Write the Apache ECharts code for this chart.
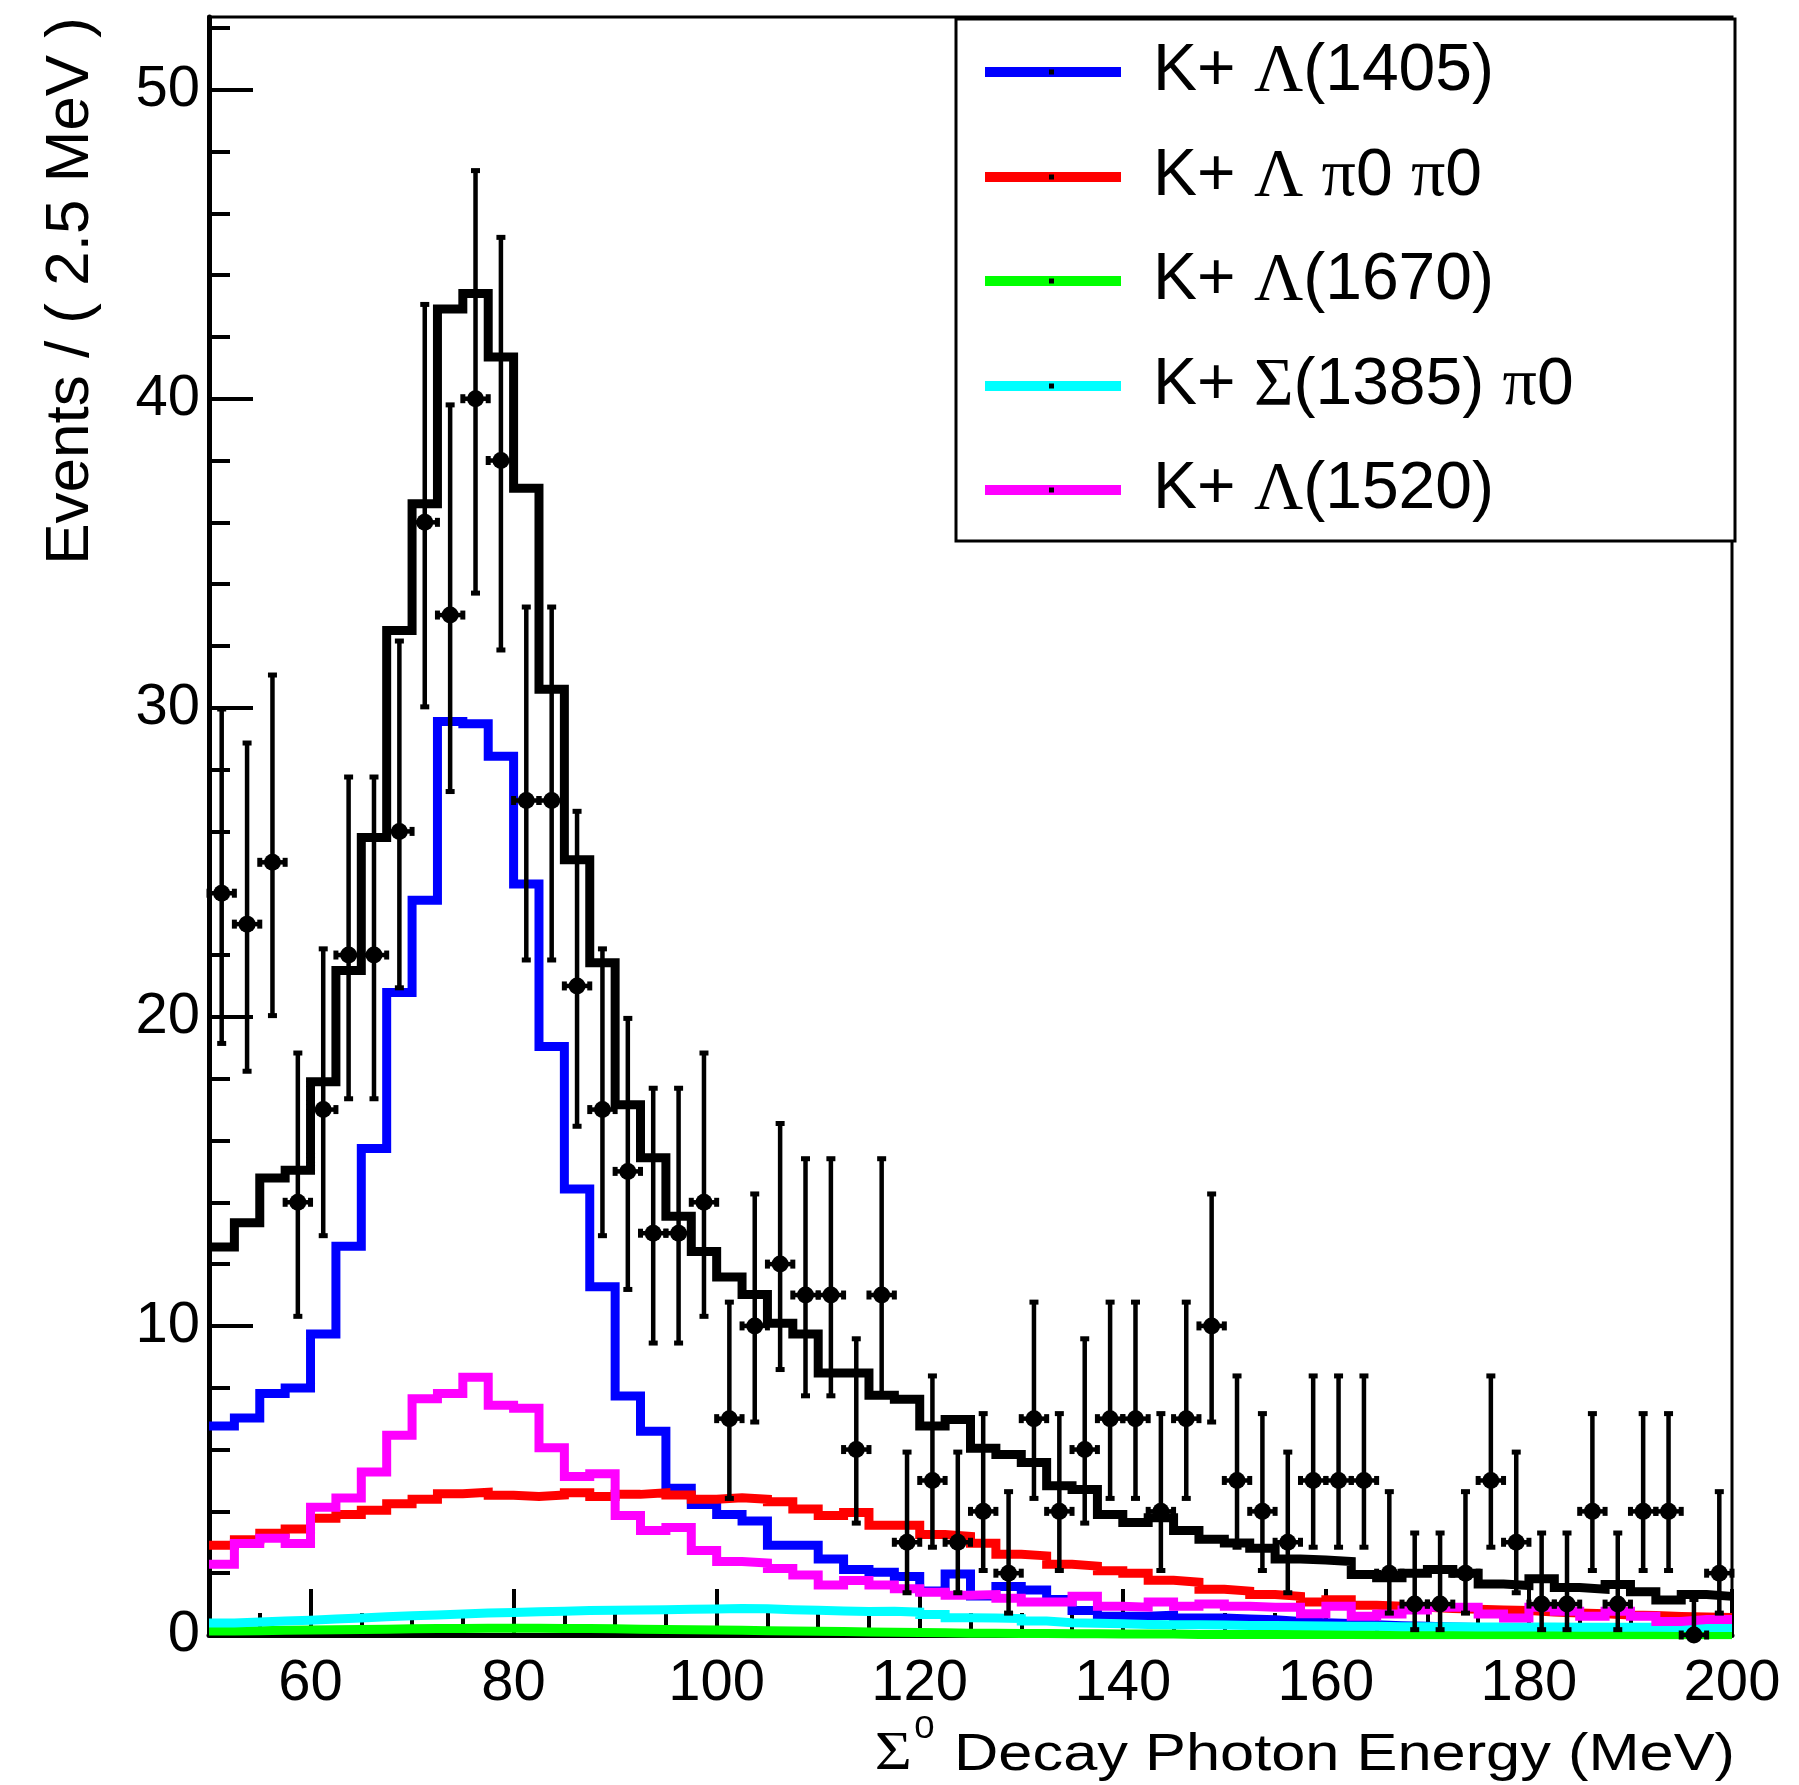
<!DOCTYPE html>
<html><head><meta charset="utf-8">
<script src="https://cdn.jsdelivr.net/npm/echarts@6/dist/echarts.min.js"></script>
<style>html,body{margin:0;padding:0;background:#fff}#c{width:1799px;height:1785px}</style>
</head><body><div id="c"></div>
<script>
// ---- bins (2.5 MeV wide) ----
const binCenters = [51.25,53.75,56.25,58.75,61.25,63.75,66.25,68.75,71.25,73.75,76.25,78.75,81.25,83.75,86.25,88.75,91.25,93.75,96.25,98.75,
  101.25,103.75,106.25,108.75,111.25,113.75,116.25,118.75,121.25,123.75,126.25,128.75,131.25,133.75,136.25,138.75,141.25,143.75,146.25,148.75,
  151.25,153.75,156.25,158.75,161.25,163.75,166.25,168.75,171.25,173.75,176.25,178.75,181.25,183.75,186.25,188.75,191.25,193.75,196.25,198.75];
const binHalfWidth = 1.25;

// ---- data counts ----
const dataCounts = [24,23,25,14,17,22,22,26,36,33,40,38,27,27,21,17,15,13,13,14,
  7,10,12,11,11,6,11,3,5,3,4,2,7,4,6,7,7,4,7,10,
  5,4,3,5,5,5,2,1,1,2,5,3,1,1,4,1,4,4,0,2];

// Poisson (68%) error bar ends, keyed by count
const poissonInterval = {0:[0,1.148],1:[0.173,3.300],2:[0.708,4.638],3:[1.367,5.918],4:[2.086,7.163],5:[2.840,8.382],
  6:[3.620,9.584],7:[4.419,10.77],10:[6.891,14.27],11:[7.739,15.41],12:[8.589,16.55],13:[9.446,17.69],14:[10.31,18.83],
  15:[11.18,19.95],17:[12.92,22.20],21:[16.46,26.65],22:[17.35,27.76],23:[18.24,28.86],24:[19.14,29.96],25:[20.04,31.06],
  26:[20.94,32.16],27:[21.84,33.26],33:[27.29,39.80],36:[30.03,43.05],38:[31.87,45.22],40:[33.71,47.38]};

// ---- fit curves (binned) ----
const totalFit = [12.55,13.34,14.79,15.04,17.9,21.5,25.8,32.5,36.6,42.9,43.4,41.35,37.1,30.6,25.08,21.75,17.16,15.44,13.55,12.41,
  11.58,11.02,10.09,9.74,8.48,8.48,7.76,7.63,6.76,6.97,6.04,5.84,5.58,4.83,4.71,3.9,3.64,3.79,3.38,3.1,
  2.98,2.81,2.46,2.43,2.38,1.96,1.85,2.0,2.12,2.0,1.65,1.6,1.82,1.54,1.48,1.63,1.4,1.13,1.31,1.25];
const kLambda1405 = [6.76,7.02,7.81,7.99,9.74,12.58,15.74,20.79,23.77,29.56,29.48,28.43,24.3,19.04,14.43,11.27,7.73,6.59,4.75,4.22,
  3.9,3.69,2.9,2.9,2.46,2.12,2.03,1.89,1.42,1.97,1.26,1.57,1.46,1.15,0.79,0.61,0.61,0.64,0.55,0.55,
  0.52,0.49,0.44,0.4,0.37,0.33,0.3,0.28,0.26,0.24,0.22,0.2,0.19,0.18,0.16,0.15,0.14,0.13,0.12,0.11];
const kLambdaPi0Pi0 = [2.9,3.08,3.29,3.43,3.78,3.9,4.04,4.25,4.39,4.57,4.62,4.52,4.48,4.53,4.6,4.48,4.55,4.6,4.53,4.39,
  4.44,4.39,4.31,4.08,3.87,3.96,3.55,3.55,3.25,3.19,2.97,2.61,2.56,2.29,2.23,2.08,2.0,1.77,1.71,1.48,
  1.42,1.31,1.25,1.07,1.14,0.96,0.93,0.9,0.86,0.83,0.81,0.79,0.74,0.71,0.69,0.65,0.63,0.6,0.58,0.57];
const kLambda1670 = [0.13,0.14,0.15,0.16,0.17,0.18,0.19,0.2,0.21,0.21,0.22,0.22,0.22,0.21,0.21,0.2,0.19,0.18,0.17,0.16,
  0.15,0.14,0.13,0.12,0.11,0.1,0.09,0.08,0.07,0.06,0.06,0.05,0.05,0.04,0.04,0.03,0.03,0.03,0.02,0.02,
  0.02,0.02,0.02,0.02,0.02,0.01,0.01,0.01,0.01,0.01,0.01,0.01,0.01,0.01,0.01,0.01,0.01,0.01,0.01,0.01];
const kSigma1385Pi0 = [0.39,0.42,0.45,0.48,0.52,0.55,0.59,0.62,0.65,0.68,0.71,0.73,0.75,0.77,0.79,0.8,0.81,0.82,0.83,0.84,
  0.86,0.85,0.82,0.8,0.78,0.76,0.77,0.74,0.66,0.56,0.55,0.53,0.45,0.4,0.38,0.36,0.34,0.33,0.33,0.32,
  0.31,0.31,0.3,0.29,0.28,0.28,0.27,0.27,0.27,0.26,0.26,0.26,0.26,0.25,0.25,0.25,0.25,0.24,0.24,0.24];
const kLambda1520 = [2.29,2.96,3.13,2.96,4.13,4.43,5.27,6.46,7.64,7.81,8.34,7.43,7.34,6.06,5.13,5.22,3.87,3.38,3.48,2.73,
  2.38,2.33,2.15,1.94,1.62,1.76,1.62,1.5,1.38,1.29,1.31,1.19,1.07,1.07,1.25,0.93,0.9,1.07,0.93,1.0,
  0.93,0.9,0.9,0.69,0.93,0.61,0.68,0.81,0.9,0.9,0.68,0.55,0.9,0.77,0.61,0.77,0.61,0.44,0.5,0.5];

// ---- axes ----
const xMajorTicks = [60,80,100,120,140,160,180,200];
const xMinorTicks = [55,60,65,70,75,80,85,90,95,100,105,110,115,120,125,130,135,140,145,150,155,160,165,170,175,180,185,190,195,200];
const yMajorTicks = [0,10,20,30,40,50];
const yMinorTicks = [0,2,4,6,8,10,12,14,16,18,20,22,24,26,28,30,32,34,36,38,40,42,44,46,48,50,52];
const xRange = [50,200];
const yRange = [0,52.35];

const legendNames = ['K+ Λ(1405)','K+ Λ π0 π0','K+ Λ(1670)','K+ Σ(1385) π0','K+ Λ(1520)'];
const legendRich = [
  '{s|K+ }{g|Λ}{s|(1405)}',
  '{s|K+ }{g|Λ}{s| }{g|π}{s|0 }{g|π}{s|0}',
  '{s|K+ }{g|Λ}{s|(1670)}',
  '{s|K+ }{g|Σ}{s|(1385) }{g|π}{s|0}',
  '{s|K+ }{g|Λ}{s|(1520)}'
];
const colors = ['#0000ff','#ff0000','#00ff00','#00ffff','#ff00ff'];
const components = [kLambda1405,kLambdaPi0Pi0,kLambda1670,kSigma1385Pi0,kLambda1520];

function stepData(vals){
  const pts = vals.map((v,i)=>[binCenters[i]-binHalfWidth, v]);
  pts.push([binCenters[vals.length-1]+binHalfWidth, vals[vals.length-1]]);
  return pts;
}

const pointData = binCenters.map((x,i)=>{
  const n = dataCounts[i];
  const iv = poissonInterval[n];
  return [x, n, iv[0], iv[1]];
});

function renderPoint(params, api){
  const x = api.value(0), y = api.value(1), lo = api.value(2), hi = api.value(3);
  const c = api.coord([x,y]);
  const cLo = api.coord([x,lo]);
  const cHi = api.coord([x,hi]);
  const cL = api.coord([x-binHalfWidth,y]);
  const cR = api.coord([x+binHalfWidth,y]);
  const st = {stroke:'#000', lineWidth:4.5, fill:null};
  const ch = [];
  ch.push({type:'line', shape:{x1:c[0],y1:cLo[1],x2:c[0],y2:cHi[1]}, style:st});
  ch.push({type:'rect', shape:{x:c[0]-4.5,y:cHi[1]-2.5,width:9,height:5}, style:{fill:'#000'}});
  if (lo < y) ch.push({type:'rect', shape:{x:c[0]-4.5,y:cLo[1]-2.5,width:9,height:5}, style:{fill:'#000'}});
  ch.push({type:'line', shape:{x1:cL[0],y1:c[1],x2:cR[0],y2:c[1]}, style:st});
  ch.push({type:'rect', shape:{x:cL[0]-2.5,y:c[1]-4.5,width:5,height:9}, style:{fill:'#000'}});
  ch.push({type:'rect', shape:{x:cR[0]-2.5,y:c[1]-4.5,width:5,height:9}, style:{fill:'#000'}});
  ch.push({type:'circle', shape:{cx:c[0],cy:c[1],r:8.5}, style:{fill:'#000'}});
  return {type:'group', children:ch};
}

const series = [];
series.push({type:'line', name:'Total', data:stepData(totalFit), step:'end', symbol:'none', z:3,
  lineStyle:{color:'#000', width:9, join:'miter', cap:'butt'}});
components.forEach((arr,k)=>{
  series.push({type:'line', name:legendNames[k], data:stepData(arr), step:'end', symbol:'none', z:4+k,
    lineStyle:{color:colors[k], width:9, join:'miter', cap:'butt'}});
});
series.push({type:'custom', name:'Data', data:pointData, renderItem:renderPoint, clip:false, z:20,
  encode:{x:0,y:1}});

const labelFont = {fontFamily:'Liberation Sans', fontSize:58, color:'#000'};

const graphic = [];
// legend box
graphic.push({type:'rect', z:100, shape:{x:956,y:19,width:779,height:522}, style:{fill:'#fff', stroke:'#000', lineWidth:3}});
const rowY = [72,177,281,386,490];
legendRich.forEach((t,k)=>{
  graphic.push({type:'line', z:101, shape:{x1:985,y1:rowY[k],x2:1121,y2:rowY[k]}, style:{stroke:colors[k], lineWidth:10}});
  graphic.push({type:'rect', z:102, shape:{x:1049,y:rowY[k]-2.5,width:5,height:5}, style:{fill:'#000'}});
  graphic.push({type:'text', z:102, x:1153, y:rowY[k], style:{text:t, align:'left', verticalAlign:'middle',
    fill:'#000', font:'66px "Liberation Sans"',
    rich:{s:{fontFamily:'Liberation Sans', fontSize:66, fill:'#000'}, g:{fontFamily:'Liberation Serif', fontSize:68, fill:'#000'}}}});
});
// y axis title
graphic.push({type:'text', z:50, x:71, y:17, rotation:Math.PI/2, style:{text:'Events / ( 2.5 MeV )', align:'right', verticalAlign:'middle',
  fill:'#000', font:'62px "Liberation Sans"'}});
// x axis title
graphic.push({type:'text', z:50, x:1735, y:1782, scaleX:1.18, style:{text:'{g|Σ}{sup|0}{s| Decay Photon Energy (MeV)}', align:'right', verticalAlign:'bottom',
  fill:'#000', font:'52px "Liberation Sans"',
  rich:{s:{fontFamily:'Liberation Sans', fontSize:52, lineHeight:56, verticalAlign:'bottom', fill:'#000'},
        g:{fontFamily:'Liberation Serif', fontSize:54, lineHeight:56, verticalAlign:'bottom', fill:'#000'},
        sup:{fontFamily:'Liberation Sans', fontSize:31, lineHeight:34, padding:[0,2,37,2], verticalAlign:'bottom', fill:'#000'}}}});

const option = {
  animation:false,
  backgroundColor:'#fff',
  grid:{left:209, right:67, top:17, bottom:150, show:true, borderColor:'#000', borderWidth:3, backgroundColor:'transparent', outerBoundsMode:'none'},
  xAxis:[
    {type:'value', min:xRange[0], max:xRange[1], position:'bottom',
      axisLine:{show:true, onZero:false, lineStyle:{color:'#000', width:5}},
      axisTick:{show:true, inside:true, length:22, customValues:xMinorTicks, lineStyle:{color:'#000', width:4}},
      axisLabel:{show:false}, splitLine:{show:false}},
    {type:'value', min:xRange[0], max:xRange[1], position:'bottom',
      axisLine:{show:false},
      axisTick:{show:true, inside:true, length:46, customValues:xMajorTicks, lineStyle:{color:'#000', width:4}},
      axisLabel:Object.assign({show:true, customValues:xMajorTicks, margin:20}, labelFont), splitLine:{show:false}}
  ],
  yAxis:[
    {type:'value', min:yRange[0], max:yRange[1], position:'left',
      axisLine:{show:true, onZero:false, lineStyle:{color:'#000', width:5}},
      axisTick:{show:true, inside:true, length:21, customValues:yMinorTicks, lineStyle:{color:'#000', width:4}},
      axisLabel:{show:false}, splitLine:{show:false}},
    {type:'value', min:yRange[0], max:yRange[1], position:'left',
      axisLine:{show:false},
      axisTick:{show:true, inside:true, length:44, customValues:yMajorTicks, lineStyle:{color:'#000', width:4}},
      axisLabel:Object.assign({show:true, customValues:yMajorTicks, margin:9}, labelFont), splitLine:{show:false}}
  ],
  series:series,
  graphic:graphic
};
const chart = echarts.init(document.getElementById('c'), null, {renderer:'canvas'});
chart.setOption(option);
</script></body></html>
